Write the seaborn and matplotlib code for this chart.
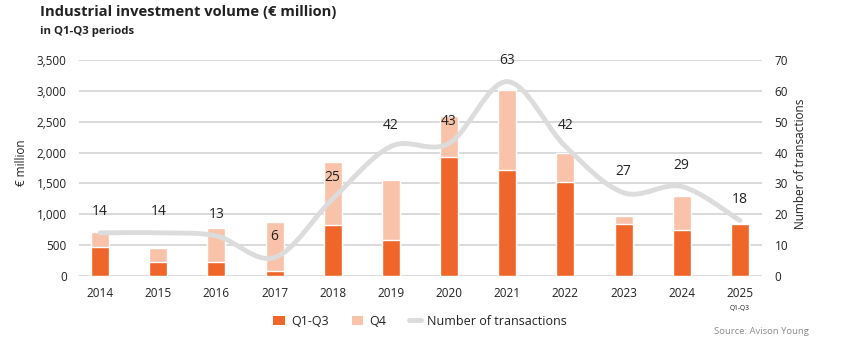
import matplotlib
matplotlib.use("Agg")
import matplotlib.pyplot as plt
from matplotlib.path import Path
from matplotlib.patches import PathPatch, Patch
from matplotlib.lines import Line2D
import seaborn as sns
import pandas as pd
import numpy as np

years = ["2014", "2015", "2016", "2017", "2018", "2019", "2020", "2021", "2022", "2023", "2024", "2025"]
q1_q3 = [470, 230, 230, 80, 830, 580, 1935, 1710, 1530, 840, 740, 840]
q4 = [240, 230, 550, 795, 1010, 975, 655, 1310, 470, 128, 550, 0]
transactions = [14, 14, 13, 6, 25, 42, 43, 63, 42, 27, 29, 18]
left_ticks = [0, 500, 1000, 1500, 2000, 2500, 3000, 3500]
right_ticks = [0, 10, 20, 30, 40, 50, 60, 70]

DARK = "#F0652A"
LIGHT = "#F9C3AA"
LINE = "#DCDCDC"
GRID = "#D9D9D9"
TXT = "#222222"

sns.set_theme(style="white")
plt.rcParams["font.family"] = ["Open Sans", "DejaVu Sans"]

df = pd.DataFrame({"year": years, "q1q3": q1_q3, "q4": q4})
df["total"] = df["q1q3"] + df["q4"]

fig = plt.figure(figsize=(8.42, 3.53), dpi=100)
ax = fig.add_axes([0.094, 0.218, 0.811, 0.612])

sns.barplot(data=df, x="year", y="total", color=LIGHT, saturation=1, width=0.31, ax=ax, zorder=2)
sns.barplot(data=df, x="year", y="q1q3", color=DARK, saturation=1, width=0.31, ax=ax, zorder=3)

ax.set_xlim(-0.36, 11.38)
ax.set_ylim(0, 3500)
ax.set_yticks(left_ticks)
ax.set_yticklabels([f"{v:,}" for v in left_ticks])
ax.grid(axis="y", color=GRID, linewidth=1.4, zorder=0)
ax.set_axisbelow(True)
for s in ax.spines.values():
    s.set_visible(False)
ax.tick_params(axis="both", length=0, labelsize=8.5, colors=TXT)
ax.tick_params(axis="y", pad=9)
ax.tick_params(axis="x", pad=8)
ax.set_xlabel("")
ax.set_ylabel("")
ax.annotate("Q1-Q3", xy=(11, 0), xycoords=("data", "axes fraction"), xytext=(0, -20.5),
            textcoords="offset points", ha="center", va="top", fontsize=4.8, color=TXT)

ax2 = ax.twinx()
ax2.set_ylim(0, 70)
ax2.set_yticks(right_ticks)
for s in ax2.spines.values():
    s.set_visible(False)
ax2.tick_params(axis="y", length=0, labelsize=8.5, colors=TXT, pad=9)
ax2.grid(False)

# smooth (Catmull-Rom style) curve through the transaction points
xs = np.arange(len(transactions), dtype=float)
ys = np.array(transactions, dtype=float)
pts = np.column_stack([xs, ys])
verts = [tuple(pts[0])]
codes = [Path.MOVETO]
n = len(pts)
for i in range(n - 1):
    p0 = pts[i - 1] if i > 0 else pts[i]
    p1 = pts[i]
    p2 = pts[i + 1]
    p3 = pts[i + 2] if i + 2 < n else pts[i + 1]
    c1 = p1 + (p2 - p0) / 6.0
    c2 = p2 - (p3 - p1) / 6.0
    verts += [tuple(c1), tuple(c2), tuple(p2)]
    codes += [Path.CURVE4] * 3
patch = PathPatch(Path(verts, codes), facecolor="none", edgecolor=LINE, linewidth=3.5,
                  capstyle="round", joinstyle="round", zorder=4)
ax2.add_patch(patch)

for x, y in zip(xs, ys):
    ax2.annotate(f"{int(y)}", xy=(x, y), xytext=(0, 10), textcoords="offset points",
                 ha="center", va="bottom", fontsize=10, color=TXT, zorder=5)

fig.text(0.047, 0.985, "Industrial investment volume (€ million)", fontsize=10.6,
         fontweight="bold", color=TXT, va="top", ha="left")
fig.text(0.047, 0.925, "in Q1-Q3 periods", fontsize=8.2, fontweight="bold",
         color=TXT, va="top", ha="left")
fig.text(0.025, 0.538, "€ million", rotation=90, fontsize=8.5, color=TXT, ha="center", va="center")
fig.text(0.951, 0.536, "Number of transactions", rotation=90, fontsize=8.5, color=TXT,
         ha="center", va="center")
fig.text(0.961, 0.06, "Source: Avison Young", fontsize=6.8, color="#8C8C8C", ha="right", va="center")

handles = [Patch(facecolor=DARK, edgecolor="none"), Patch(facecolor=LIGHT, edgecolor="none"),
           Line2D([0], [0], color=LINE, linewidth=3.5, solid_capstyle="round")]
fig.legend(handles, ["Q1-Q3", "Q4", "Number of transactions"], loc="center",
           bbox_to_anchor=(0.499, 0.09), ncol=3, frameon=False, fontsize=9,
           handlelength=0.95, handleheight=0.8, columnspacing=1.8, handletextpad=0.5,
           labelcolor=TXT)

fig.savefig("out.png", dpi=100)
